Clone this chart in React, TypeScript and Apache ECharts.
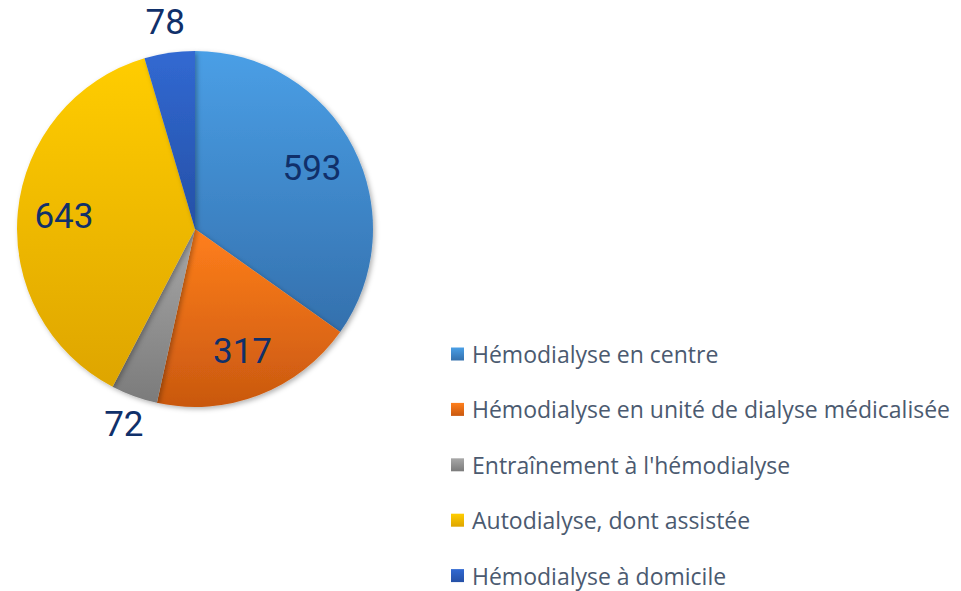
import React, { useEffect, useRef } from "react";
import * as echarts from "echarts";

const categories = [
  "Hémodialyse en centre",
  "Hémodialyse en unité de dialyse médicalisée",
  "Entraînement à l'hémodialyse",
  "Autodialyse, dont assistée",
  "Hémodialyse à domicile",
];
const values = [593, 317, 72, 643, 78];
const topColors = ["#4a9fe6", "#ff7f1c", "#a8a8a8", "#ffcd00", "#3169d2"];
const bottomColors = ["#3470ad", "#c9580f", "#7b7b7b", "#dea500", "#2550a6"];

const CX = 195;
const CY = 229;
const R = 178;

export default function App() {
  const ref = useRef<HTMLDivElement>(null);
  useEffect(() => {
    if (!ref.current) return;
    const chart = echarts.init(ref.current, undefined, { renderer: "svg" });
    const total = values.reduce((a, b) => a + b, 0);
    const mids: number[] = [];
    let acc = 0;
    values.forEach((v) => {
      mids.push(((acc + v / 2) / total) * Math.PI * 2);
      acc += v;
    });
    const labelFont = "Roboto, 'Noto Sans', sans-serif";
    chart.setOption({
      animation: false,
      legend: {
        orient: "vertical",
        left: 451,
        top: 342,
        height: 260,
        padding: 0,
        itemWidth: 13,
        itemHeight: 13,
        itemGap: 31.4,
        icon: "rect",
        data: categories,
        textStyle: {
          fontFamily: "'Open Sans', Roboto, sans-serif",
          fontSize: 23,
          color: "#4b5a70",
          lineHeight: 24,
          padding: [0, 0, 0, 3],
        },
      },
      series: [
        {
          type: "pie",
          center: [CX, CY],
          radius: R,
          startAngle: 90,
          clockwise: true,
          avoidLabelOverlap: false,
          itemStyle: {
            shadowBlur: 5,
            shadowOffsetX: 2,
            shadowOffsetY: 2,
            shadowColor: "rgba(0,0,0,0.3)",
          },
          label: {
            show: true,
            position: "inside",
            formatter: "{c}",
            fontFamily: labelFont,
            fontSize: 35,
            color: "#10306a",
          },
          labelLine: { show: false },
          labelLayout: (params: any) => {
            const i = params.dataIndex;
            const share = values[i] / total;
            const k = share < 0.06 ? 1.17 : 0.74;
            const a = mids[i];
            return {
              x: CX + k * R * Math.sin(a),
              y: CY - k * R * Math.cos(a),
              align: "center",
              verticalAlign: "middle",
            };
          },
          emphasis: { disabled: true },
          data: categories.map((name, i) => ({
            name,
            value: values[i],
            itemStyle: {
              color: new echarts.graphic.LinearGradient(0, 0, 0, 1, [
                { offset: 0, color: topColors[i] },
                { offset: 1, color: bottomColors[i] },
              ]),
            },
          })),
        },
      ],
    });
    return () => chart.dispose();
  }, []);
  return (
    <div
      ref={ref}
      style={{ position: "fixed", left: 0, top: 0, width: 961, height: 591, background: "#fff" }}
    />
  );
}
